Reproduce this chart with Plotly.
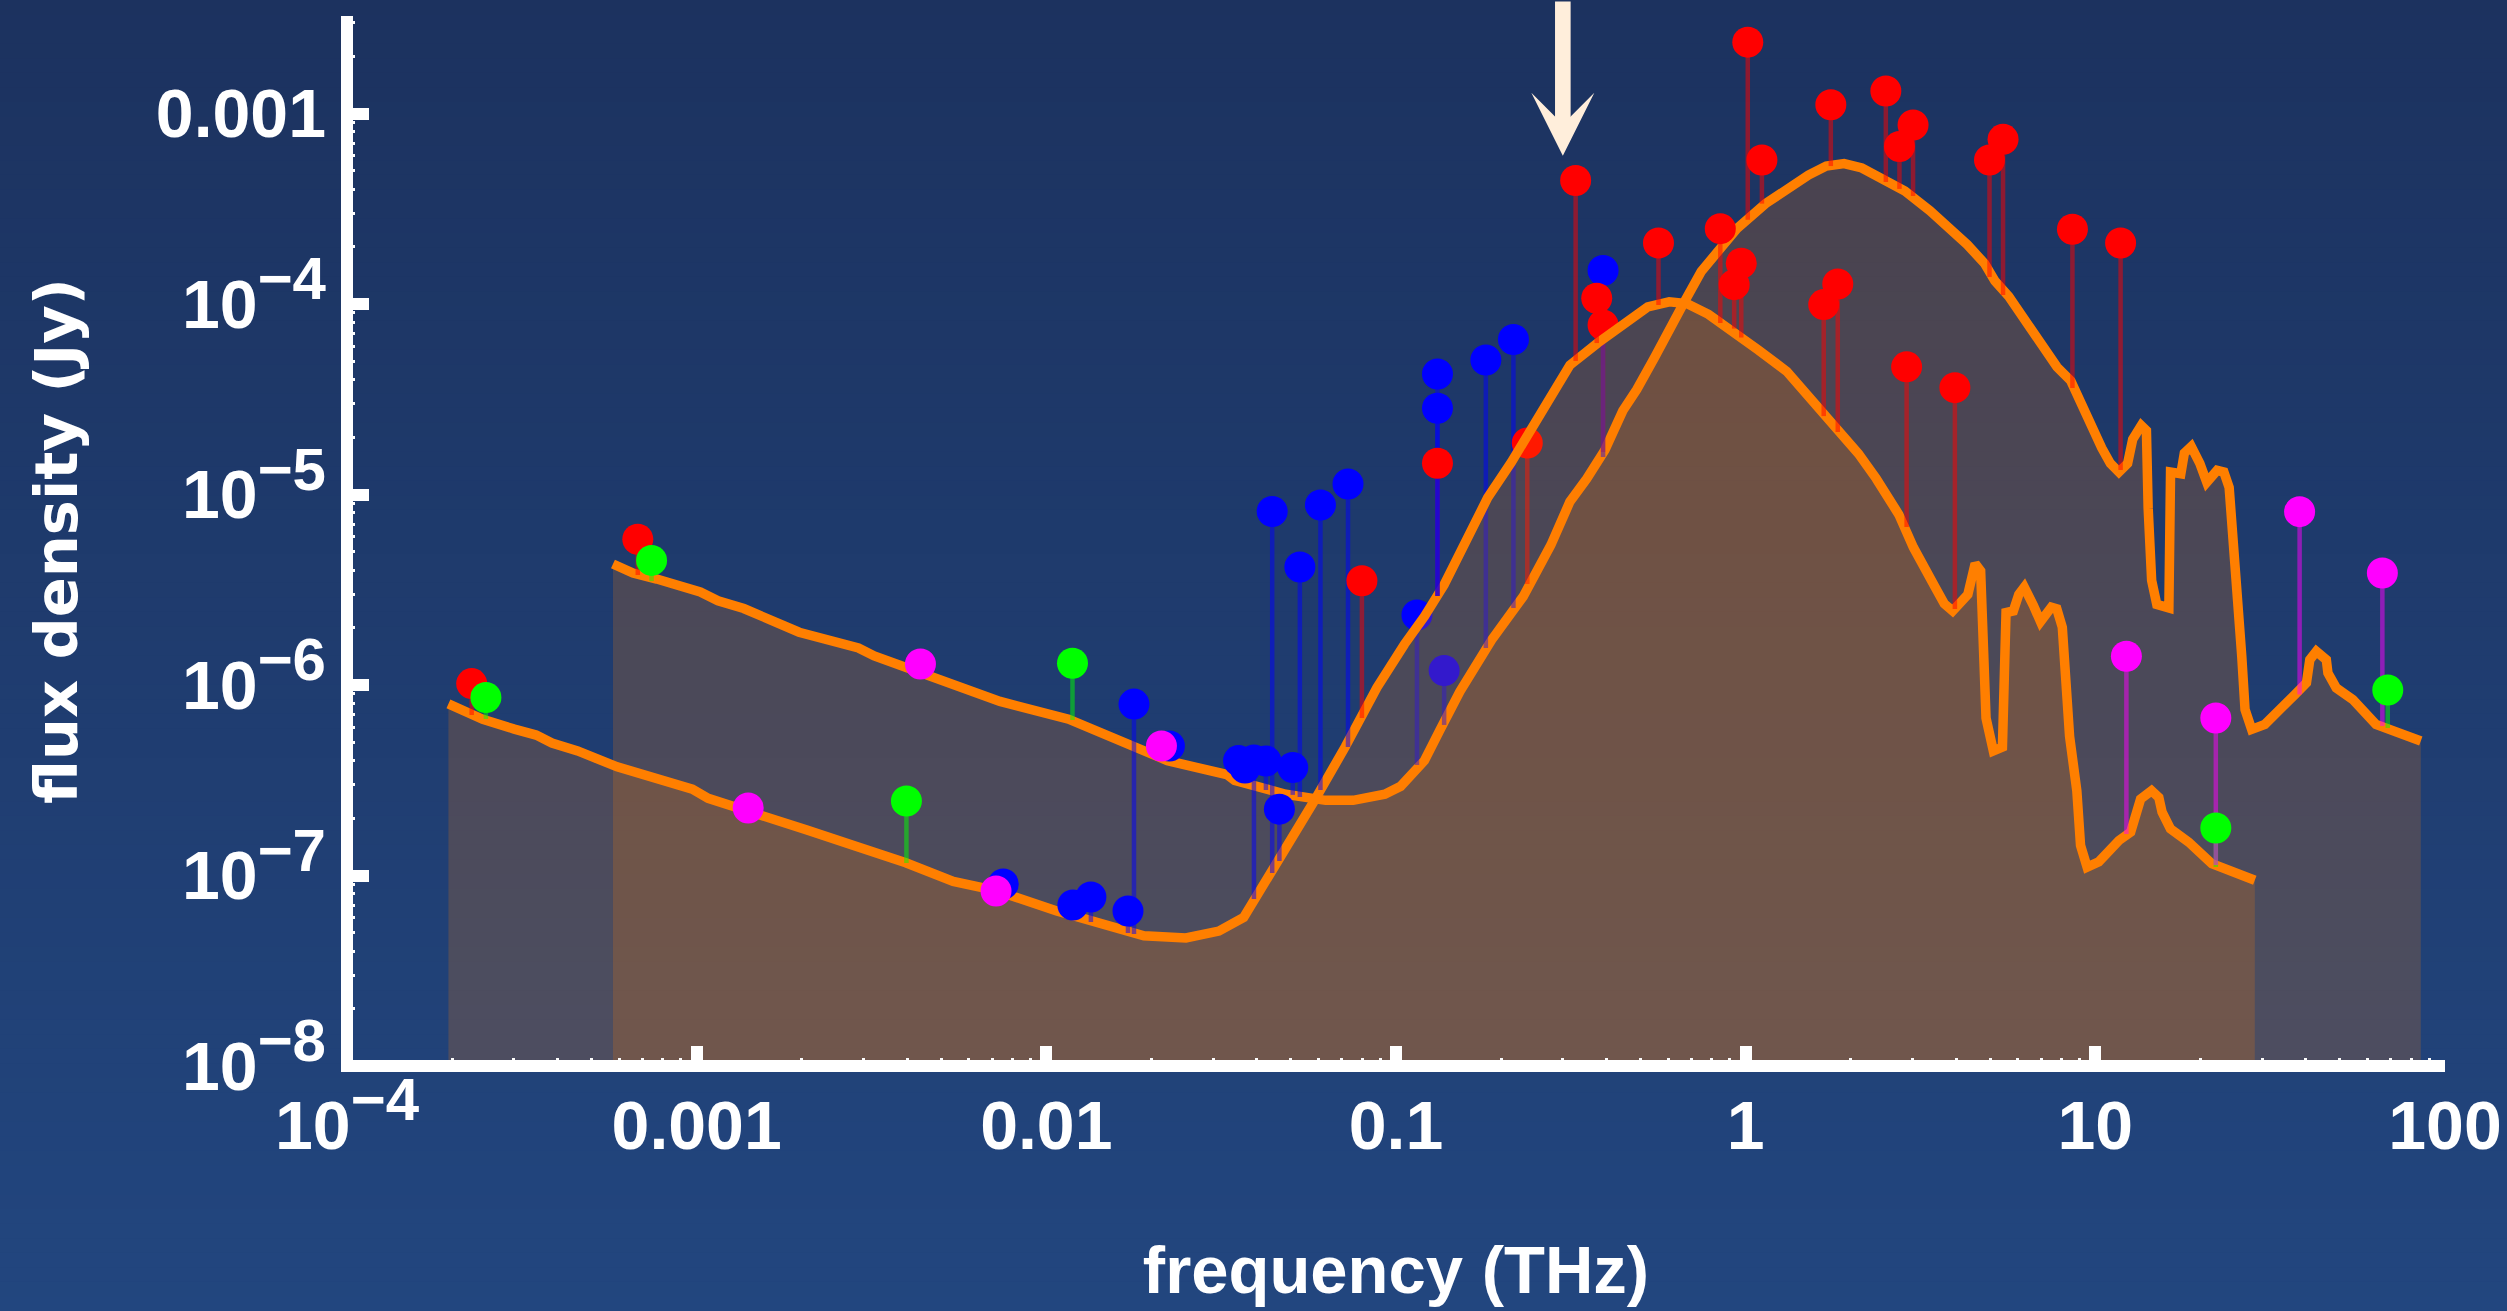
import numpy as np
import plotly.graph_objects as go

# ---------------------------------------------------------------
# Model spectral energy distributions (frequency in THz, flux in Jy)
# ---------------------------------------------------------------
freq_a = [1.95e-4, 2.147e-4, 2.445e-4, 3.01e-4, 3.475e-4, 3.856e-4, 4.567e-4,
          5.925e-4, 7.49e-4, 9.72e-4, 1.079e-3, 1.399e-3, 1.768e-3, 2.067e-3,
          2.826e-3, 3.964e-3, 5.417e-3, 7.13e-3, 1.071e-2, 1.231e-2, 1.901e-2,
          2.507e-2, 3.114e-2, 3.667e-2, 4.42e-2, 5.21e-2, 5.81e-2, 7.16e-2,
          8.82e-2, 0.1058, 0.1206, 0.1373, 0.1523, 0.1829, 0.2138, 0.2562,
          0.3143, 0.3777, 0.4453, 0.5249, 0.6044, 0.6788, 0.7826, 0.9012,
          1.088, 1.311, 1.585, 1.741, 2.101, 2.363, 2.743, 3.017, 3.242, 3.483,
          3.699, 3.908, 4.32, 4.426, 4.532, 4.699, 4.755, 4.869, 5.108, 5.424,
          5.554, 5.828, 6.04, 6.262, 6.648, 6.970, 7.487, 7.759, 8.045, 8.44,
          8.854, 9.072, 9.473, 10.23, 11.68, 12.62, 13.47, 14.48, 15.19, 15.52,
          16.40, 18.49, 21.54, 28.58]
flux_a = [7.96e-7, 7.28e-7, 6.61e-7, 5.87e-7, 5.46e-7, 4.96e-7, 4.51e-7,
          3.72e-7, 3.28e-7, 2.84e-7, 2.54e-7, 2.20e-7, 1.91e-7, 1.733e-7,
          1.432e-7, 1.167e-7, 9.32e-8, 8.37e-8, 6.52e-8, 6.02e-8, 4.83e-8,
          4.70e-8, 5.11e-8, 6.02e-8, 1.043e-7, 1.69e-7, 2.43e-7, 4.74e-7,
          9.70e-7, 1.64e-6, 2.29e-6, 3.36e-6, 4.93e-6, 9.62e-6, 1.479e-5, 2.624e-5,
          4.78e-5, 6.25e-5, 7.76e-5, 9.65e-5, 1.027e-4, 1.005e-4, 8.83e-5, 7.43e-5,
          5.73e-5, 4.43e-5, 3.00e-5, 2.42e-5, 1.64e-5, 1.212e-5, 7.84e-6, 5.28e-6,
          4.24e-6, 3.26e-6, 2.67e-6, 2.45e-6, 2.99e-6, 3.89e-6, 4.34e-6, 3.97e-6,
          1.477e-6, 6.70e-7, 4.51e-7, 4.72e-7, 2.40e-6, 2.45e-6, 2.99e-6, 3.26e-6,
          2.62e-6, 2.15e-6, 2.56e-6, 2.51e-6, 2.01e-6, 5.38e-7, 2.78e-7, 1.44e-7,
          1.107e-7, 1.181e-7, 1.527e-7, 1.688e-7, 2.52e-7, 2.79e-7, 2.57e-7,
          2.15e-7, 1.756e-7, 1.497e-7, 1.153e-7, 9.44e-8]

freq_b = [5.763e-4, 6.574e-4, 7.69e-4, 1.024e-3, 1.151e-3, 1.364e-3, 1.963e-3,
          2.901e-3, 3.22e-3, 5.28e-3, 6.03e-3, 7.37e-3, 1.158e-2, 1.667e-2,
          2.22e-2, 3.28e-2, 3.455e-2, 4.84e-2, 6.29e-2, 7.54e-2, 9.29e-2, 0.1031,
          0.1206, 0.1335, 0.1523, 0.1876, 0.2310, 0.2773, 0.3143, 0.3514, 0.3958,
          0.4453, 0.4886, 0.5499, 0.6044, 0.6640, 0.7464, 0.8601, 0.9437, 1.140,
          1.311, 1.512, 1.700, 1.912, 2.149, 2.478, 2.853, 3.364, 3.873, 4.305,
          4.825, 5.161, 5.654, 6.333, 6.935, 7.77, 8.506, 9.103, 9.74, 10.43,
          11.04, 11.68, 12.37, 12.79, 13.53, 14.00, 14.16, 14.49, 14.99, 16.23,
          16.41, 17.56, 17.97, 18.81, 19.90, 20.83, 22.29, 23.31, 24.14, 24.69,
          25.55, 26.23, 26.80, 27.99, 30.53, 34.08, 37.21, 40.16, 41.05, 42.86,
          45.77, 46.26, 48.86, 54.51, 63.49, 85.27]
flux_b = [4.32e-6, 3.87e-6, 3.60e-6, 3.08e-6, 2.77e-6, 2.52e-6, 1.893e-6,
          1.564e-6, 1.42e-6, 1.017e-6, 9.47e-7, 8.20e-7, 6.62e-7, 4.97e-7,
          4.01e-7, 3.39e-7, 3.16e-7, 2.67e-7, 2.48e-7, 2.48e-7, 2.67e-7, 2.94e-7,
          4.01e-7, 5.80e-7, 9.24e-7, 1.722e-6, 2.91e-6, 5.43e-6, 9.17e-6, 1.212e-5,
          1.713e-5, 2.754e-5, 3.566e-5, 5.27e-5, 7.43e-5, 1.005e-4, 1.483e-4,
          2.007e-4, 2.487e-4, 3.365e-4, 4.0e-4, 4.75e-4, 5.30e-4, 5.46e-4, 5.18e-4,
          4.55e-4, 3.92e-4, 3.09e-4, 2.487e-4, 2.048e-4, 1.63e-4, 1.322e-4,
          1.096e-4, 8.03e-5, 6.52e-5, 4.67e-5, 3.96e-5, 2.96e-5, 2.35e-5, 1.756e-5,
          1.456e-5, 1.312e-5, 1.456e-5, 1.949e-5, 2.30e-5, 2.165e-5, 8.48e-6,
          3.54e-6, 2.65e-6, 2.54e-6, 1.312e-5, 1.285e-5, 1.651e-5, 1.787e-5,
          1.456e-5, 1.159e-5, 1.340e-5, 1.312e-5, 1.088e-5, 6.60e-6, 2.87e-6,
          1.412e-6, 7.43e-7, 5.85e-7, 6.21e-7, 7.43e-7, 8.91e-7, 1.026e-6,
          1.357e-6, 1.501e-6, 1.357e-6, 1.156e-6, 9.66e-7, 8.39e-7, 6.21e-7, 5.08e-7]

# ---------------------------------------------------------------
# Photometry: measured flux, model flux at the same frequency, band set
# ---------------------------------------------------------------
phot_a_freq = [2.273e-4, 2.496e-4, 1.404e-3, 3.98e-3, 7.53e-3, 7.18e-3, 1.191e-2,
               1.341e-2, 1.712e-2, 1.781e-2, 3.924e-2, 4.64e-2, 4.425e-2, 6.08e-2,
               7.29e-2, 7.99e-2, 0.1314, 0.1314, 0.1314, 0.3264, 0.3750, 0.5632,
               0.8461, 0.9271, 0.9714, 1.672, 1.834, 2.886, 3.966, 12.27, 22.11, 22.11]
phot_a_flux = [1.017e-6, 8.60e-7, 2.26e-7, 2.46e-7, 9.02e-8, 8.29e-8, 7.00e-8,
               7.71e-8, 6.51e-8, 7.94e-7, 4.04e-7, 2.23e-7, 8.14e-6, 8.81e-6,
               1.135e-5, 3.53e-6, 4.29e-5, 2.84e-5, 1.458e-5, 4.45e-4, 1.072e-4,
               2.093e-4, 2.487e-4, 1.264e-4, 1.637e-4, 9.93e-5, 1.275e-4, 4.68e-5,
               3.64e-5, 1.416e-6, 6.71e-7, 1.776e-7]
phot_a_model = [6.96e-7, 6.63e-7, 2.21e-7, 1.163e-7, 8.09e-8, 8.29e-8, 6.05e-8,
                5.70e-8, 4.99e-8, 4.93e-8, 7.53e-8, 1.192e-7, 1.031e-7, 2.81e-7,
                4.73e-7, 6.71e-7, 2.93e-6, 2.93e-6, 2.93e-6, 5.02e-5, 6.24e-5,
                9.88e-5, 7.95e-5, 7.43e-5, 6.67e-5, 2.58e-5, 2.13e-5, 6.75e-6,
                2.51e-6, 1.651e-7, 1.135e-7, 1.108e-7]
phot_a_band = ["R", "G", "M", "G", "B", "M", "B", "B", "B", "B", "B", "B", "B", "B",
               "B", "R", "B", "B", "R", "R", "R", "R", "R", "R", "R", "R", "R", "R",
               "R", "M", "M", "G"]

phot_b_freq = [6.786e-4, 7.43e-4, 4.365e-3, 1.188e-2, 2.249e-2, 2.134e-2, 3.546e-2,
               3.70e-2, 4.246e-2, 5.066e-2, 5.31e-2, 0.1148, 0.1373, 0.1807, 0.2167,
               0.2374, 0.391, 0.391, 1.014, 1.113, 1.752, 2.517, 2.753, 3.011, 4.981,
               5.446, 8.6, 11.81, 38.39, 66.2, 68.6]
phot_b_flux = [5.82e-6, 4.51e-6, 1.29e-6, 1.301e-6, 4.78e-7, 4.78e-7, 4.01e-7,
               3.67e-7, 3.99e-7, 3.69e-7, 4.16e-6, 2.33e-6, 1.19e-6, 5.08e-5, 6.51e-5,
               1.863e-5, 1.501e-4, 7.76e-5, 2.37e-3, 5.70e-4, 1.113e-3, 1.312e-3,
               6.72e-4, 8.70e-4, 5.70e-4, 7.32e-4, 2.47e-4, 2.09e-4, 8.13e-6, 3.87e-6,
               9.41e-7]
phot_b_model = [3.78e-6, 3.51e-6, 1.156e-6, 6.55e-7, 3.99e-7, 4.0e-7, 3.13e-7,
                3.06e-7, 2.81e-7, 2.65e-7, 2.58e-7, 3.80e-7, 6.17e-7, 1.564e-6,
                2.54e-6, 3.39e-6, 1.573e-5, 1.671e-5, 2.77e-4, 3.365e-4, 5.30e-4,
                4.37e-4, 4.02e-4, 3.69e-4, 1.386e-4, 1.115e-4, 3.62e-5, 1.345e-5,
                8.91e-7, 6.09e-7, 5.95e-7]
phot_b_band = ["R", "G", "M", "G", "B", "M", "B", "B", "B", "B", "B", "B", "B", "B",
               "B", "R", "B", "R", "R", "R", "R", "R", "R", "R", "R", "R", "R", "R",
               "M", "M", "G"]

# axis ticks
x_tickvals = [1e-4, 1e-3, 1e-2, 1e-1, 1, 10, 100]
x_ticklabels = [("10", "−4"), "0.001", "0.01", "0.1", "1", "10", "100"]
y_tickvals = [1e-8, 1e-7, 1e-6, 1e-5, 1e-4, 1e-3]
y_ticklabels = [("10", "−8"), ("10", "−7"), ("10", "−6"), ("10", "−5"), ("10", "−4"),
                "0.001"]

# marked frequency (1 mm) and the flux where the arrow points
arrow_freq = 0.3
arrow_flux = 6.0e-4

# ---------------------------------------------------------------
# styling
# ---------------------------------------------------------------
W, H = 2507, 1311
M_L, M_R, M_T, M_B = 347, 62, 16, 245
ORANGE = "rgb(255,127,0)"
SED_FILL = "rgba(255,127,0,0.2)"
BAND_RGB = {"R": (255, 0, 0), "G": (0, 255, 0), "B": (0, 0, 255), "M": (255, 0, 255)}
BAND_ORDER = ["R", "B", "G", "M"]
TICK_SIZE = 68
TICK_FONT = dict(family="Liberation Sans, Arial", size=TICK_SIZE, color="white",
                 weight="bold")
SUP_PX = 60


def tick_html(lbl):
    # power-of-ten labels get a large raised exponent
    if isinstance(lbl, tuple):
        base, exp = lbl
        return f'{base}<sup><span style="font-size:{SUP_PX}px">{exp}</span></sup>'
    return lbl


fig = go.Figure()


def add_sed(freq, flux, pfreq, pflux, pmodel, pband):
    # translucent area under the model curve
    fig.add_trace(go.Scatter(
        x=[freq[0]] + list(freq) + [freq[-1]],
        y=[1e-12] + list(flux) + [1e-12],
        mode="lines", fill="toself", fillcolor=SED_FILL,
        line=dict(width=0), hoverinfo="skip"))
    # the model curve itself
    fig.add_trace(go.Scatter(
        x=freq, y=flux, mode="lines",
        line=dict(color=ORANGE, width=9.5), hoverinfo="skip"))
    # residual stems from each measurement to the model
    for band in BAND_ORDER:
        xs, ys = [], []
        for f, v, m, b in zip(pfreq, pflux, pmodel, pband):
            if b == band:
                xs += [f, f, None]
                ys += [v, m, None]
        if xs:
            r, g, b_ = BAND_RGB[band]
            fig.add_trace(go.Scatter(
                x=xs, y=ys, mode="lines",
                line=dict(color=f"rgba({r},{g},{b_},0.5)", width=4.5),
                hoverinfo="skip"))
    # measurements
    for band in BAND_ORDER:
        xs = [f for f, b in zip(pfreq, pband) if b == band]
        ys = [v for v, b in zip(pflux, pband) if b == band]
        if xs:
            r, g, b_ = BAND_RGB[band]
            fig.add_trace(go.Scatter(
                x=xs, y=ys, mode="markers",
                marker=dict(size=31, color=f"rgb({r},{g},{b_})", line=dict(width=0)),
                hoverinfo="skip"))


add_sed(freq_b, flux_b, phot_b_freq, phot_b_flux, phot_b_model, phot_b_band)
add_sed(freq_a, flux_a, phot_a_freq, phot_a_flux, phot_a_model, phot_a_band)

# vertical background gradient
plot_w = W - M_L - M_R
plot_h = H - M_T - M_B
top_rgb = np.array([28, 50, 95])
bot_rgb = np.array([34, 70, 127])
n_strips = 90
shapes = []
for i in range(n_strips):
    p0 = i * H / n_strips
    p1 = (i + 1) * H / n_strips + 1
    c = top_rgb + (bot_rgb - top_rgb) * (i + 0.5) / n_strips
    shapes.append(dict(
        type="rect", xref="paper", yref="paper", layer="below",
        x0=-M_L / plot_w - 0.01, x1=1 + M_R / plot_w + 0.01,
        y0=(H - M_B - p1) / plot_h, y1=(H - M_B - p0) / plot_h,
        line=dict(width=0),
        fillcolor=f"rgb({c[0]:.0f},{c[1]:.0f},{c[2]:.0f})"))

# L-shaped frame (left and bottom axis lines)
shapes.append(dict(type="path", xref="paper", yref="paper", layer="above",
                   path="M 0,1 L 0,0 L 1,0", line=dict(color="white", width=12)))

fig.update_layout(
    template="none",
    width=W, height=H,
    margin=dict(l=M_L, r=M_R, t=M_T, b=M_B),
    paper_bgcolor="rgb(31,60,110)",
    plot_bgcolor="rgba(0,0,0,0)",
    showlegend=False,
    shapes=shapes,
    xaxis=dict(
        type="log", range=[-4, 2], autorange=False,
        tickvals=x_tickvals, ticktext=[tick_html(t) for t in x_ticklabels],
        ticks="inside", ticklen=20, tickwidth=12, tickcolor="white",
        minor=dict(ticks="inside", ticklen=8, tickwidth=2.5, tickcolor="white",
                   dtick="D1", showgrid=False),
        showgrid=False, zeroline=False, showline=False, automargin=False,
        tickfont=TICK_FONT, ticklabelstandoff=14,
        title=dict(text="frequency (THz)", standoff=84,
                   font=dict(family="Liberation Sans, Arial", size=67,
                             color="white", weight="bold")),
    ),
    yaxis=dict(
        type="log", range=[-8, -2.488], autorange=False,
        tickvals=y_tickvals, ticktext=[tick_html(t) for t in y_ticklabels],
        ticks="inside", ticklen=22, tickwidth=12, tickcolor="white",
        minor=dict(ticks="inside", ticklen=8, tickwidth=2.5, tickcolor="white",
                   dtick="D1", showgrid=False),
        showgrid=False, zeroline=False, showline=False, automargin=False,
        tickfont=TICK_FONT, ticklabelstandoff=20,
        title=dict(text="flux density (Jy)", standoff=59,
                   font=dict(family="DejaVu Sans", size=59,
                             color="white", weight="bold")),
    ),
)

fig.add_annotation(
    x=np.log10(arrow_freq), y=np.log10(arrow_flux), xref="x", yref="y",
    ax=0, ay=-160, text="", showarrow=True,
    arrowhead=3, arrowsize=0.673, arrowwidth=15.6, arrowcolor="rgb(255,238,219)",
    standoff=0)

fig.write_html("out.html")
